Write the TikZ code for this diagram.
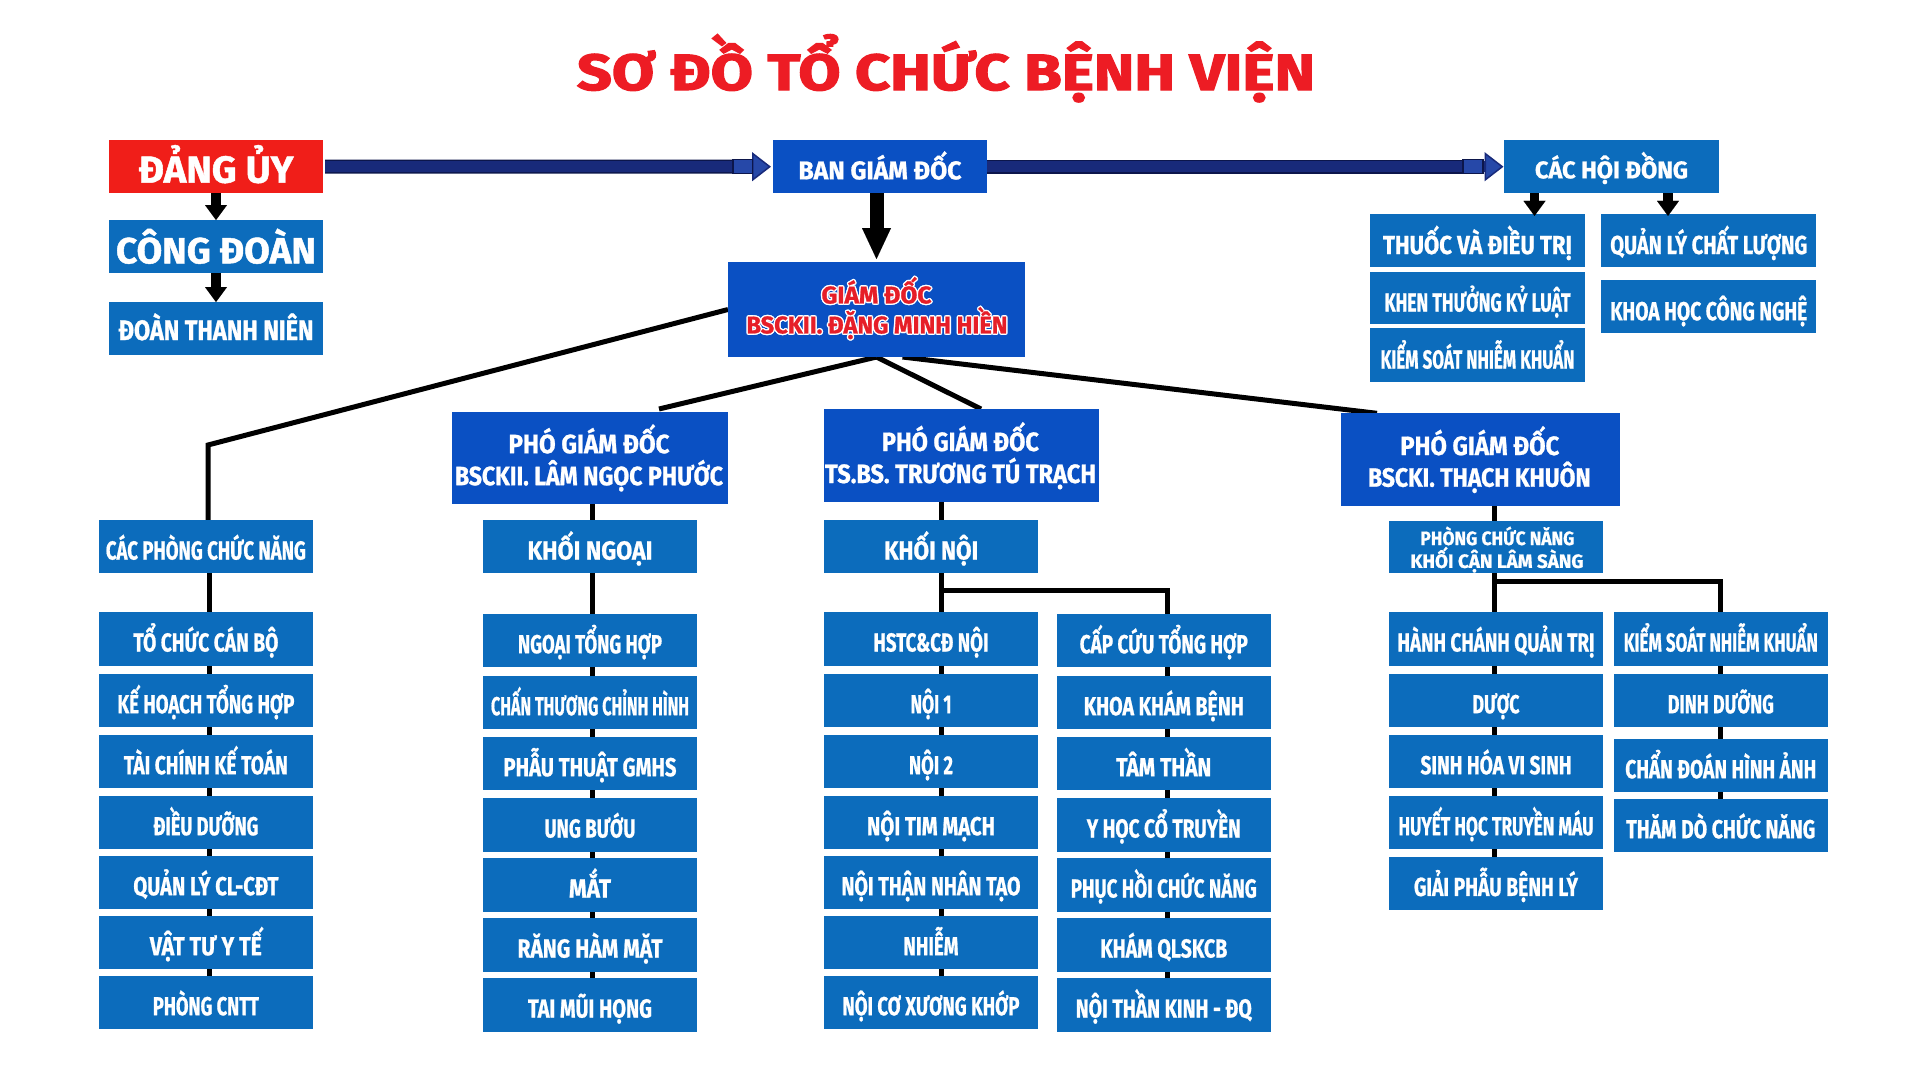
\documentclass[tikz,border=0pt]{standalone}
\usepackage{fontspec}
\usepackage{graphicx}
\setmainfont{Fira Sans}[BoldFeatures={FakeBold=1.2}]
\newfontfamily\cond{Fira Sans}[FakeStretch=0.75, BoldFeatures={FakeBold=0.8}]
\newfontfamily\heavy{Fira Sans}[BoldFeatures={FakeBold=2.2}]
\usetikzlibrary{arrows.meta,calc}
\pgfdeclarelayer{bg}
\pgfsetlayers{bg,main}
\definecolor{colblue}{RGB}{12,108,188}
\definecolor{dblue}{RGB}{10,80,195}
\definecolor{dangred}{RGB}{240,30,25}
\definecolor{titlered}{RGB}{237,28,36}
\definecolor{gdred}{RGB}{230,30,40}
\definecolor{navy}{RGB}{24,42,122}
\definecolor{navylight}{RGB}{38,72,168}
\definecolor{navydark}{RGB}{12,22,75}
\newcommand\W[2]{\resizebox{#1pt}{\height}{#2}}
\newcommand\outl[1]{\leavevmode
 \rlap{\hspace*{1.4pt}\textcolor{white}{#1}}%
 \rlap{\hspace*{-1.4pt}\textcolor{white}{#1}}%
 \rlap{\raisebox{1.4pt}{\textcolor{white}{#1}}}%
 \rlap{\raisebox{-1.4pt}{\textcolor{white}{#1}}}%
 \rlap{\hspace*{1pt}\raisebox{1pt}{\textcolor{white}{#1}}}%
 \rlap{\hspace*{-1pt}\raisebox{1pt}{\textcolor{white}{#1}}}%
 \rlap{\hspace*{1pt}\raisebox{-1pt}{\textcolor{white}{#1}}}%
 \rlap{\hspace*{-1pt}\raisebox{-1pt}{\textcolor{white}{#1}}}%
 \textcolor{gdred}{#1}}
\tikzset{
 bx/.style={rectangle, inner sep=0pt, outer sep=0pt, fill=colblue, text=white,
   minimum width=213.5pt, minimum height=53.3pt, text depth=0pt},
 colbx/.style={bx, font=\cond\bfseries\fontsize{26}{28}\selectfont, text height=25pt},
 dbx/.style={bx, fill=dblue},
 txt/.style={inner sep=0pt, outer sep=0pt, text=white},
 pgdfont/.style={font=\cond\bfseries\fontsize{26.5}{28}\selectfont},
 conn/.style={draw=black, line width=5pt},
 blkarrow/.style={draw=black, line width=10.5pt, -{Triangle[width=22pt,length=15pt,line width=0.01pt]}},
 bigarrow/.style={draw=black, line width=14pt, -{Triangle[width=29pt,length=31pt,line width=0.01pt]}},
 navyarrow/.style={draw=navy, line width=11pt, -{Triangle[width=29pt,length=19pt,line width=1.5pt,fill=navylight]}},
 navyshaft/.style={draw=navydark, line width=14pt},
 navyblock/.style={fill=navylight, draw=navydark, line width=1.2pt},
}
\begin{document}
\begin{tikzpicture}[x=1pt,y=-1pt]
\useasboundingbox (0,0) rectangle (1920,1080);
\begin{pgfonlayer}{bg}
\fill[white] (0,0) rectangle (1920,1080);
\end{pgfonlayer}

% title
\node[txt, text=titlered, anchor=base, font=\heavy\bfseries\fontsize{51}{55}\selectfont] (title) at (946,90) {\W{738}{SƠ ĐỒ TỔ CHỨC BỆNH VIỆN}};

% left stack
\node[bx, fill=dangred, minimum width=214pt, minimum height=53pt, font=\bfseries\fontsize{37.7}{40}\selectfont, text height=32.4pt] (dang) at (216,166.5) {\W{155}{ĐẢNG ỦY}};
\node[bx, minimum width=214pt, minimum height=53pt, font=\bfseries\fontsize{36.3}{40}\selectfont, text height=33.6pt] (congdoan) at (216,246.5) {\W{200}{CÔNG ĐOÀN}};
\node[bx, minimum width=214pt, minimum height=53pt, font=\bfseries\fontsize{28}{30}\selectfont, text height=23pt] (doantn) at (216,328.5) {\W{195}{ĐOÀN THANH NIÊN}};

% top row
\node[dbx, minimum width=214pt, font=\cond\bfseries\fontsize{25.7}{28}\selectfont, text height=25.3pt] (bgd) at (880,166.7) {\W{163}{BAN GIÁM ĐỐC}};
\node[bx, minimum width=215pt, font=\cond\bfseries\fontsize{24.2}{28}\selectfont, text height=23.3pt] (chd) at (1611.5,166.7) {\W{153}{CÁC HỘI ĐỒNG}};

% director
\node[dbx, minimum width=297pt, minimum height=95pt] (gd) at (876.5,309.5) {};
\node[txt, anchor=base, font=\cond\bfseries\fontsize{24.2}{28}\selectfont] (gdl1) at (876.5,303.4) {\outl{\W{110}{GIÁM ĐỐC}}};
\node[txt, anchor=base, font=\cond\bfseries\fontsize{24.2}{28}\selectfont] (gdl2) at (877,333.4) {\outl{\W{261}{BSCKII. ĐẶNG MINH HIỀN}}};

% councils
\node[colbx, minimum width=215pt, text height=27pt] (thuoc) at (1477.5,240.5) {\W{189}{THUỐC VÀ ĐIỀU TRỊ}};
\node[colbx, minimum width=215pt, minimum height=52.6pt, text height=27pt] (khen) at (1477.5,298) {\W{186}{KHEN THƯỞNG KỶ LUẬT}};
\node[colbx, minimum width=215pt, text height=27pt] (kiemhd) at (1477.5,355) {\W{194}{KIỂM SOÁT NHIỄM KHUẨN}};
\node[colbx, minimum width=215pt, text height=27pt] (qlcl) at (1708.8,240.5) {\W{197}{QUẢN LÝ CHẤT LƯỢNG}};
\node[colbx, minimum width=215pt, text height=27pt] (khcn) at (1708.8,306.7) {\W{197}{KHOA HỌC CÔNG NGHỆ}};

% vice directors
\node[dbx, minimum width=276pt, minimum height=92pt] (pgd1) at (590,458) {};
\node[txt, anchor=base, pgdfont] (pgd1a) at (589,453.2) {\W{161}{PHÓ GIÁM ĐỐC}};
\node[txt, anchor=base, pgdfont] (pgd1b) at (589,485.2) {\W{268}{BSCKII. LÂM NGỌC PHƯỚC}};
\node[dbx, minimum width=275.5pt, minimum height=92.7pt] (pgd2) at (961.3,455.4) {};
\node[txt, anchor=base, pgdfont] (pgd2a) at (960.4,451) {\W{157}{PHÓ GIÁM ĐỐC}};
\node[txt, anchor=base, pgdfont] (pgd2b) at (960.5,483) {\W{271}{TS.BS. TRƯƠNG TÚ TRẠCH}};
\node[dbx, minimum width=278.5pt, minimum height=92.7pt] (pgd3) at (1480.3,459.7) {};
\node[txt, anchor=base, pgdfont] (pgd3a) at (1479.8,455) {\W{159}{PHÓ GIÁM ĐỐC}};
\node[txt, anchor=base, pgdfont] (pgd3b) at (1479.4,486.7) {\W{222.5}{BSCKI. THẠCH KHUÔN}};

% level 2
\node[colbx, text height=26pt] (cacphong) at (205.9,546.5) {\W{200}{CÁC PHÒNG CHỨC NĂNG}};
\node[colbx, text height=26pt] (kngoai) at (590,546.5) {\W{125}{KHỐI NGOẠI}};
\node[colbx, text height=26pt] (knoi) at (931.2,546.5) {\W{94}{KHỐI NỘI}};
\node[bx, minimum height=52.3pt] (pcn) at (1496.2,546.9) {};
\node[txt, anchor=base, font=\cond\bfseries\fontsize{19.3}{22}\selectfont] (pcna) at (1497.4,545) {\W{154}{PHÒNG CHỨC NĂNG}};
\node[txt, anchor=base, font=\cond\bfseries\fontsize{19.3}{22}\selectfont] (pcnb) at (1497,567.9) {\W{173}{KHỐI CẬN LÂM SÀNG}};

% column A
\node[colbx] (a1) at (205.9,639) {\W{145}{TỔ CHỨC CÁN BỘ}};
\node[colbx] (a2) at (205.9,700.7) {\W{177}{KẾ HOẠCH TỔNG HỢP}};
\node[colbx] (a3) at (205.9,761.7) {\W{164}{TÀI CHÍNH KẾ TOÁN}};
\node[colbx] (a4) at (205.9,822.7) {\W{105}{ĐIỀU DƯỠNG}};
\node[colbx] (a5) at (205.9,882.7) {\W{145}{QUẢN LÝ CL-CĐT}};
\node[colbx] (a6) at (205.9,942.7) {\W{112}{VẬT TƯ Y TẾ}};
\node[colbx] (a7) at (205.9,1002.7) {\W{106}{PHÒNG CNTT}};
% column B
\node[colbx] (b1) at (590,640.7) {\W{144}{NGOẠI TỔNG HỢP}};
\node[colbx] (b2) at (590,702.7) {\W{198}{CHẤN THƯƠNG CHỈNH HÌNH}};
\node[colbx] (b3) at (590,763.7) {\W{173}{PHẪU THUẬT GMHS}};
\node[colbx] (b4) at (590,825) {\W{91}{UNG BƯỚU}};
\node[colbx] (b5) at (590,885) {\W{42}{MẮT}};
\node[colbx] (b6) at (590,945) {\W{145}{RĂNG HÀM MẶT}};
\node[colbx] (b7) at (590,1005) {\W{124}{TAI MŨI HỌNG}};
% column C
\node[colbx] (c1) at (931,639) {\W{115}{HSTC\&CĐ NỘI}};
\node[colbx] (c2) at (931,700.7) {\W{41}{NỘI 1}};
\node[colbx] (c3) at (931,761.7) {\W{44}{NỘI 2}};
\node[colbx] (c4) at (931,822.7) {\W{128}{NỘI TIM MẠCH}};
\node[colbx] (c5) at (931,882.7) {\W{179}{NỘI THẬN NHÂN TẠO}};
\node[colbx] (c6) at (931,942.7) {\W{55}{NHIỄM}};
\node[colbx] (c7) at (931,1002.7) {\W{177}{NỘI CƠ XƯƠNG KHỚP}};
% column D
\node[colbx] (d1) at (1163.8,640.7) {\W{168}{CẤP CỨU TỔNG HỢP}};
\node[colbx] (d2) at (1163.8,702.7) {\W{160}{KHOA KHÁM BỆNH}};
\node[colbx] (d3) at (1163.8,763.7) {\W{95}{TÂM THẦN}};
\node[colbx] (d4) at (1163.8,825) {\W{154}{Y HỌC CỔ TRUYỀN}};
\node[colbx] (d5) at (1163.8,885) {\W{186}{PHỤC HỒI CHỨC NĂNG}};
\node[colbx] (d6) at (1163.8,945) {\W{127}{KHÁM QLSKCB}};
\node[colbx] (d7) at (1163.8,1005) {\W{176}{NỘI THẦN KINH - ĐQ}};
% column E
\node[colbx] (e1) at (1496,639) {\W{197}{HÀNH CHÁNH QUẢN TRỊ}};
\node[colbx] (e2) at (1496,700.7) {\W{47}{DƯỢC}};
\node[colbx] (e3) at (1496,761.7) {\W{151}{SINH HÓA VI SINH}};
\node[colbx] (e4) at (1496,822.7) {\W{195}{HUYẾT HỌC TRUYỀN MÁU}};
\node[colbx] (e5) at (1496,883.4) {\W{164}{GIẢI PHẪU BỆNH LÝ}};
% column F
\node[colbx] (f1) at (1720.8,639) {\W{194}{KIỂM SOÁT NHIỄM KHUẨN}};
\node[colbx] (f2) at (1720.8,700.7) {\W{106}{DINH DƯỠNG}};
\node[colbx] (f3) at (1720.8,765.7) {\W{191}{CHẨN ĐOÁN HÌNH ẢNH}};
\node[colbx] (f4) at (1720.8,825.7) {\W{189}{THĂM DÒ CHỨC NĂNG}};

% helper coordinates
\coordinate (xA) at (209,0);
\coordinate (xB) at (592,0);
\coordinate (xC) at (941.7,0);
\coordinate (xD) at (1167.7,0);
\coordinate (xE) at (1494,0);
\coordinate (xF) at (1720,0);
\coordinate (cA) at (208,445);
\coordinate (p1top) at (659,409);
\coordinate (p2top) at (981,409);
\coordinate (p3top) at (1377,413.3);
\coordinate (brCD) at (941.7,590);
\coordinate (brEF) at (1494,581.7);
\coordinate (xH1) at (1534.5,0);
\coordinate (xH2) at (1668,0);

% connectors (behind boxes)
\begin{pgfonlayer}{bg}
\draw[conn] (gd.west) -- (cA) -- (cA |- cacphong.north);
\draw[conn] (gd.south) -- (p1top);
\draw[conn] (gd.south) -- (p2top);
\draw[conn] ($(gd.south)+(26,0)$) -- (p3top);
\draw[conn] (cacphong.south -| xA) -- (a7.center -| xA);
\draw[conn] (pgd1.south -| xB) -- (b7.center -| xB);
\draw[conn] (pgd2.south -| xC) -- (c7.center -| xC);
\draw[conn] (brCD) -| (d7.center -| xD);
\draw[conn] (pgd3.south -| xE) -- (e5.center -| xE);
\draw[conn] (brEF) -| (f4.center -| xF);
\end{pgfonlayer}

% arrows
\draw[blkarrow] (dang.south) -- (congdoan.north);
\draw[blkarrow] (congdoan.south) -- (doantn.north);
\draw[bigarrow] (bgd.south -| gd.north) -- ($(gd.north)+(0,-3)$);
\draw[blkarrow, line width=9.5pt] (chd.south -| xH1) -- ($(thuoc.north -| xH1)+(0,2)$);
\draw[blkarrow, line width=9.5pt] (chd.south -| xH2) -- ($(qlcl.north -| xH2)+(0,2)$);

\draw[navyshaft] ($(dang.east)+(2,0)$) -- ($(bgd.west)+(-40,0)$);
\draw[navyarrow] ($(dang.east)+(2,0)$) -- ($(bgd.west)+(-2,0)$);
\draw[navyblock] ($(bgd.west)+(-40,-7)$) rectangle ($(bgd.west)+(-20.5,7)$);
\draw[navyshaft] (bgd.east) -- ($(chd.west)+(-41,0)$);
\draw[navyarrow] (bgd.east) -- ($(chd.west)+(-0.5,0)$);
\draw[navyblock] ($(chd.west)+(-41,-7)$) rectangle ($(chd.west)+(-21,7)$);
\end{tikzpicture}
\end{document}
